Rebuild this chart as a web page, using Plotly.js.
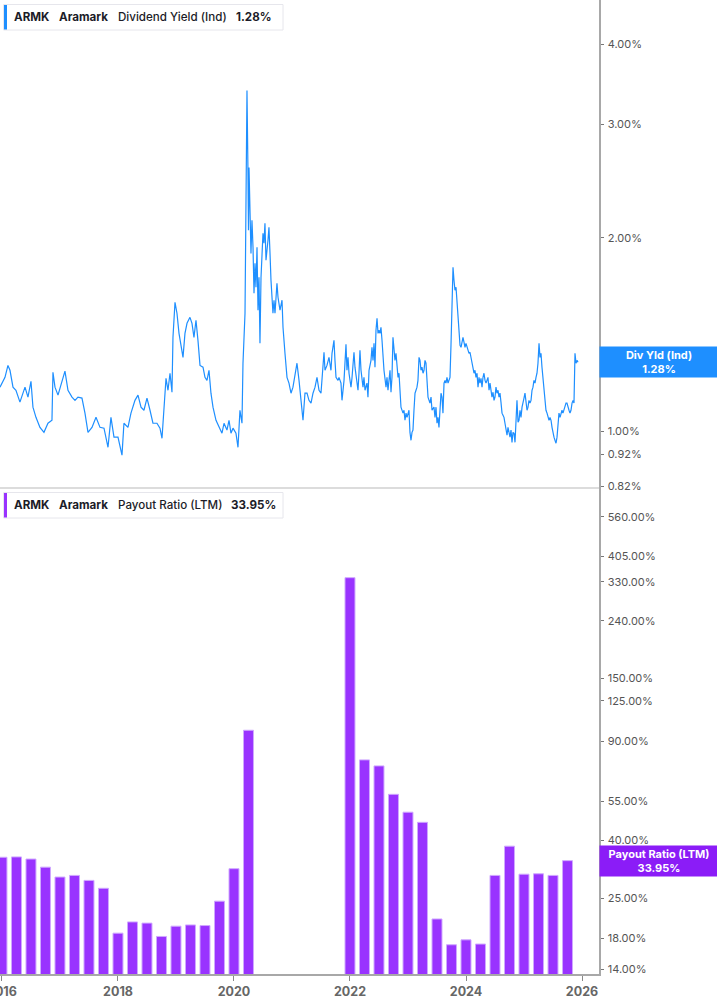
<!DOCTYPE html>
<html>
<head>
<meta charset="utf-8">
<script src="https://cdn.plot.ly/plotly-3.0.1.min.js"></script>
<style>
  html, body { margin: 0; padding: 0; background: #fff; }
  #chart { width: 717px; height: 1005px; }
</style>
</head>
<body>
<div id="chart"></div>
<script>
// ARMK dividend yield (daily) and quarterly payout ratio
const ticker = 'ARMK';
const company = 'Aramark';

// [decimal year, dividend yield %]
const yieldSeries = [
  [2015.966,1.171],[2016.052,1.213],[2016.103,1.266],[2016.138,1.244],[2016.190,1.171],[2016.241,1.158],[2016.310,1.110],[2016.397,1.171],[2016.448,1.130],[2016.500,1.196],[2016.534,1.090],[2016.586,1.051],[2016.655,1.014],[2016.724,0.996],[2016.793,1.029],[2016.862,1.040],[2016.879,1.235],[2016.914,1.171],[2016.966,1.138],
  [2017.034,1.200],[2017.086,1.240],[2017.138,1.158],[2017.207,1.130],[2017.259,1.117],[2017.310,1.130],[2017.379,1.126],[2017.431,1.067],[2017.483,0.996],[2017.552,1.014],[2017.621,1.051],[2017.690,1.014],[2017.759,1.011],[2017.828,0.944],[2017.879,1.051],[2017.931,0.979],
  [2018.000,0.979],[2018.069,0.918],[2018.103,1.029],[2018.172,1.014],[2018.224,1.067],[2018.293,1.117],[2018.345,1.138],[2018.397,1.090],[2018.448,1.078],[2018.500,1.126],[2018.552,1.078],[2018.603,1.029],[2018.672,1.029],[2018.724,1.011],[2018.759,0.975],[2018.793,1.067],[2018.828,1.209],[2018.862,1.158],[2018.897,1.231],[2018.931,1.150],[2018.948,1.400],[2018.983,1.587],
  [2019.017,1.526],[2019.052,1.420],[2019.086,1.351],[2019.121,1.303],[2019.155,1.420],[2019.190,1.472],[2019.241,1.504],[2019.276,1.472],[2019.310,1.400],[2019.345,1.488],[2019.379,1.385],[2019.414,1.266],[2019.466,1.258],[2019.500,1.213],[2019.534,1.200],[2019.569,1.244],[2019.603,1.146],[2019.638,1.090],[2019.690,1.040],[2019.741,1.014],[2019.793,0.993],[2019.828,1.029],[2019.879,1.004],[2019.914,1.040],[2019.948,0.993],[2019.983,1.011],
  [2020.034,0.993],[2020.069,0.944],[2020.103,1.078],[2020.138,1.029],[2020.155,1.276],[2020.190,1.526],[2020.207,2.183],[2020.224,3.391],[2020.241,2.546],[2020.250,2.054],[2020.259,2.573],[2020.276,2.152],[2020.293,1.891],[2020.310,2.129],[2020.328,1.933],[2020.345,1.639],[2020.362,1.825],[2020.379,1.675],[2020.397,1.933],[2020.414,1.543],[2020.431,1.736],[2020.448,1.370],[2020.466,1.736],[2020.500,2.032],[2020.517,1.961],[2020.534,2.106],[2020.552,1.845],[2020.586,1.982],[2020.603,2.077],[2020.621,1.891],[2020.638,1.717],[2020.672,1.526],[2020.690,1.599],[2020.707,1.526],[2020.741,1.699],[2020.759,1.616],[2020.793,1.543],[2020.828,1.599],[2020.845,1.451],[2020.879,1.322],[2020.914,1.213],[2020.948,1.188],[2020.983,1.146],
  [2021.017,1.171],[2021.052,1.231],[2021.086,1.276],[2021.121,1.200],[2021.155,1.117],[2021.190,1.040],[2021.224,1.146],[2021.259,1.146],[2021.293,1.117],[2021.328,1.106],[2021.362,1.146],[2021.397,1.171],[2021.431,1.213],[2021.466,1.158],[2021.500,1.146],[2021.517,1.200],[2021.534,1.258],[2021.552,1.327],[2021.569,1.244],[2021.603,1.266],[2021.638,1.303],[2021.655,1.266],[2021.672,1.244],[2021.690,1.322],[2021.724,1.385],[2021.741,1.289],[2021.759,1.213],[2021.793,1.200],[2021.810,1.213],[2021.845,1.188],[2021.862,1.117],[2021.897,1.200],[2021.914,1.276],[2021.931,1.365],[2021.948,1.244],[2021.966,1.303],[2021.983,1.231],
  [2022.017,1.171],[2022.034,1.209],[2022.069,1.327],[2022.086,1.258],[2022.121,1.200],[2022.138,1.158],[2022.155,1.231],[2022.172,1.336],[2022.190,1.244],[2022.224,1.171],[2022.241,1.213],[2022.259,1.158],[2022.293,1.188],[2022.310,1.130],[2022.328,1.244],[2022.362,1.289],[2022.379,1.351],[2022.397,1.289],[2022.414,1.370],[2022.431,1.258],[2022.448,1.436],[2022.466,1.499],[2022.483,1.420],[2022.500,1.436],[2022.517,1.420],[2022.534,1.451],[2022.552,1.385],[2022.569,1.289],[2022.586,1.244],[2022.621,1.171],[2022.638,1.213],[2022.655,1.158],[2022.690,1.244],[2022.707,1.150],[2022.724,1.213],[2022.741,1.400],[2022.759,1.336],[2022.776,1.289],[2022.793,1.322],[2022.810,1.258],[2022.828,1.213],[2022.845,1.231],[2022.862,1.146],[2022.879,1.090],[2022.914,1.067],[2022.931,1.078],[2022.948,1.040],[2022.966,1.067],[2022.983,1.051],
  [2023.017,1.078],[2023.034,0.996],[2023.052,0.968],[2023.069,0.996],[2023.086,1.004],[2023.103,1.078],[2023.121,1.146],[2023.138,1.158],[2023.155,1.171],[2023.172,1.200],[2023.190,1.303],[2023.207,1.289],[2023.224,1.244],[2023.241,1.258],[2023.259,1.231],[2023.276,1.244],[2023.293,1.289],[2023.310,1.276],[2023.328,1.188],[2023.345,1.130],[2023.379,1.106],[2023.397,1.130],[2023.414,1.078],[2023.448,1.090],[2023.466,1.051],[2023.483,1.090],[2023.500,1.029],[2023.517,1.051],[2023.534,1.014],[2023.552,1.078],[2023.569,1.146],[2023.586,1.130],[2023.603,1.067],[2023.621,1.188],[2023.638,1.200],[2023.655,1.188],[2023.672,1.213],[2023.690,1.188],[2023.707,1.200],[2023.724,1.213],[2023.741,1.360],[2023.759,1.599],[2023.776,1.799],[2023.793,1.717],[2023.810,1.657],[2023.828,1.675],[2023.845,1.582],[2023.862,1.543],[2023.879,1.410],[2023.897,1.360],[2023.914,1.351],[2023.931,1.375],[2023.948,1.400],[2023.966,1.375],[2023.983,1.351],
  [2024.000,1.370],[2024.034,1.336],[2024.052,1.322],[2024.069,1.327],[2024.086,1.303],[2024.103,1.276],[2024.121,1.244],[2024.138,1.231],[2024.155,1.244],[2024.172,1.213],[2024.190,1.231],[2024.207,1.171],[2024.224,1.213],[2024.241,1.188],[2024.259,1.209],[2024.276,1.171],[2024.293,1.213],[2024.310,1.231],[2024.328,1.200],[2024.345,1.188],[2024.379,1.213],[2024.397,1.158],[2024.414,1.188],[2024.448,1.130],[2024.466,1.150],[2024.483,1.117],[2024.500,1.130],[2024.517,1.171],[2024.534,1.146],[2024.552,1.158],[2024.569,1.130],[2024.586,1.146],[2024.603,1.110],[2024.621,1.067],[2024.638,1.059],[2024.655,1.051],[2024.672,1.029],[2024.690,1.004],[2024.707,0.986],[2024.724,1.014],[2024.741,0.993],[2024.759,0.979],[2024.776,1.004],[2024.793,0.961],[2024.810,0.996],[2024.828,0.993],[2024.845,0.961],[2024.862,1.078],[2024.879,1.117],[2024.897,1.033],[2024.914,1.040],[2024.931,1.078],[2024.948,1.051],[2024.966,1.090],[2024.983,1.117],
  [2025.000,1.126],[2025.017,1.146],[2025.034,1.106],[2025.052,1.078],[2025.069,1.090],[2025.086,1.117],[2025.103,1.106],[2025.121,1.117],[2025.138,1.158],[2025.155,1.171],[2025.172,1.200],[2025.190,1.188],[2025.207,1.213],[2025.224,1.231],[2025.241,1.276],[2025.259,1.370],[2025.276,1.303],[2025.293,1.322],[2025.310,1.258],[2025.328,1.213],[2025.345,1.158],[2025.362,1.106],[2025.379,1.078],[2025.397,1.067],[2025.414,1.051],[2025.431,1.040],[2025.448,1.051],[2025.466,1.040],[2025.483,1.014],[2025.500,0.993],[2025.517,0.979],[2025.534,0.968],[2025.552,0.958],[2025.569,0.979],[2025.586,1.029],[2025.603,1.067],[2025.621,1.051],[2025.638,1.067],[2025.655,1.078],[2025.672,1.067],[2025.690,1.078],[2025.707,1.090],[2025.724,1.106],[2025.741,1.106],[2025.759,1.086],[2025.776,1.078],[2025.793,1.067],[2025.810,1.078],[2025.828,1.106],[2025.845,1.117],[2025.862,1.106],[2025.879,1.322],[2025.897,1.276],[2025.914,1.289],[2025.931,1.280]
];

// quarterly payout ratio (LTM), % — no bars while earnings were negative
const payoutQuarters = [
  2016.0, 2016.25, 2016.5, 2016.75, 2017.0, 2017.25, 2017.5, 2017.75,
  2018.0, 2018.25, 2018.5, 2018.75, 2019.0, 2019.25, 2019.5, 2019.75,
  2020.0, 2020.25,
  2022.0, 2022.25, 2022.5, 2022.75, 2023.0, 2023.25, 2023.5, 2023.75,
  2024.0, 2024.25, 2024.5, 2024.75, 2025.0, 2025.25, 2025.5, 2025.75
];
const payoutPct = [
  34.9, 35.0, 34.4, 32.2, 29.7, 30.1, 28.9, 27.1,
  18.8, 20.6, 20.4, 18.3, 19.9, 20.1, 20.0, 24.4,
  31.8, 98.3,
  341, 77.2, 73.5, 58.3, 50.4, 46.4, 21.1, 17.1,
  17.8, 17.2, 30.1, 38.2, 30.4, 30.5, 30.1, 33.95
];

const yearTicks = [2016, 2018, 2020, 2022, 2024, 2026];
const yieldTicks = [0.82, 0.92, 1, 2, 3, 4];
const payoutTicks = [14, 18, 25, 40, 55, 90, 125, 150, 240, 330, 405, 560];

const lastYield = yieldSeries[yieldSeries.length - 1][1];
const lastPayout = payoutPct[payoutPct.length - 1];

const blue = '#1e8fff';
const purple = '#9933ff';
const purpleDark = '#8b1cf7';
const font = 'Inter, "Noto Sans", sans-serif';

// plot area in px, used to place the legend boxes
const W = 599, H = 974;
const px = v => v / W;
const py = v => 1 - v / H;

const pct = v => v.toFixed(2) + '%';

const lineTrace = {
  type: 'scatter',
  mode: 'lines',
  x: yieldSeries.map(d => d[0]),
  y: yieldSeries.map(d => d[1]),
  xaxis: 'x2',
  yaxis: 'y2',
  line: { color: blue, width: 1.2 },
  hoverinfo: 'skip',
  showlegend: false,
};

const barTrace = {
  type: 'bar',
  x: payoutQuarters,
  y: payoutPct,
  width: 0.172,
  xaxis: 'x',
  yaxis: 'y',
  marker: { color: purple, line: { color: '#cfa8ff', width: 1 } },
  hoverinfo: 'skip',
  showlegend: false,
};

function legendBox(top, color) {
  return [
    {
      type: 'rect', xref: 'paper', yref: 'paper',
      x0: px(3.5), x1: px(283), y0: py(top + 25.5), y1: py(top),
      line: { color: '#e6e6ec', width: 1 }, fillcolor: '#ffffff', layer: 'above',
    },
    {
      type: 'rect', xref: 'paper', yref: 'paper',
      x0: px(4), x1: px(7), y0: py(top + 25), y1: py(top + 0.5),
      line: { width: 0 }, fillcolor: color, layer: 'above',
    },
  ];
}

function legendText(yc, parts) {
  return parts.map(p => ({
    xref: 'paper', yref: 'paper', x: px(p.x), y: py(yc),
    xanchor: 'left', yanchor: 'middle', showarrow: false,
    borderpad: 0,
    text: p.text,
    font: { family: font, size: 11.6, color: '#1c1c28', weight: p.w },
  }));
}

const annotations = [
  ...legendText(17, [
    { x: 12.5, text: ticker, w: 700 },
    { x: 57.5, text: company, w: 700 },
    { x: 116.5, text: 'Dividend Yield (Ind)', w: 500 },
    { x: 234.5, text: pct(lastYield), w: 700 },
  ]),
  ...legendText(505, [
    { x: 12.5, text: ticker, w: 700 },
    { x: 57.5, text: company, w: 700 },
    { x: 116.5, text: 'Payout Ratio (LTM)', w: 500 },
    { x: 229.5, text: pct(lastPayout), w: 700 },
  ]),
  {
    xref: 'paper', yref: 'y2', x: 1, y: Math.log10(lastYield),
    xanchor: 'left', yanchor: 'middle', showarrow: false,
    width: 114, height: 26, borderpad: 2, bgcolor: blue, align: 'center',
    text: 'Div Yld (Ind)<br>' + pct(lastYield),
    font: { family: font, size: 11, color: '#ffffff', weight: 700 },
  },
  {
    xref: 'paper', yref: 'y', x: 1, y: Math.log10(lastPayout),
    xanchor: 'left', yanchor: 'middle', showarrow: false,
    width: 114, height: 26, borderpad: 2, bgcolor: purpleDark, align: 'center',
    text: 'Payout Ratio (LTM)<br>' + pct(lastPayout),
    font: { family: font, size: 11, color: '#ffffff', weight: 700 },
  },
];

const xRange = [2015.966, 2026.293];
const yAxisCommon = {
  type: 'log',
  side: 'right',
  showgrid: false,
  zeroline: false,
  showline: true,
  linecolor: '#a8a8a8',
  linewidth: 1.5,
  ticks: 'outside',
  ticklen: 3,
  tickwidth: 1,
  tickcolor: '#777',
  ticklabelstandoff: 2,
  tickfont: { family: font, size: 11, color: '#555' },
  fixedrange: true,
};

const layout = {
  width: 717,
  height: 1005,
  margin: { l: 0, r: 118, t: 0, b: 31 },
  paper_bgcolor: '#ffffff',
  plot_bgcolor: '#ffffff',
  showlegend: false,
  bargap: 0,
  xaxis: {
    domain: [0, 1],
    anchor: 'y',
    range: xRange,
    tickvals: yearTicks,
    ticktext: yearTicks.map(String),
    ticklabeloverflow: 'allow',
    showgrid: false,
    zeroline: false,
    showline: true,
    linecolor: '#a8a8a8',
    linewidth: 2,
    ticks: 'outside',
    ticklen: 5,
    tickcolor: '#888',
    tickfont: { family: font, size: 12.5, color: '#666', weight: 700 },
    fixedrange: true,
  },
  xaxis2: {
    domain: [0, 1],
    anchor: 'y2',
    range: xRange,
    visible: false,
    fixedrange: true,
  },
  yaxis: Object.assign({}, yAxisCommon, {
    domain: [0, 0.499],
    anchor: 'x',
    range: [1.1295, 2.8504],
    tickvals: payoutTicks,
    ticktext: payoutTicks.map(pct),
  }),
  yaxis2: Object.assign({}, yAxisCommon, {
    domain: [0.499, 1],
    anchor: 'x2',
    range: [-0.0883, 0.671],
    tickvals: yieldTicks,
    ticktext: yieldTicks.map(pct),
  }),
  shapes: [
    {
      type: 'line', xref: 'paper', yref: 'paper',
      x0: 0, x1: 1, y0: 0.499, y1: 0.499,
      line: { color: '#dcdcdc', width: 2 },
    },
    ...legendBox(4.5, blue),
    ...legendBox(492.5, purple),
  ],
  annotations: annotations,
};

Plotly.newPlot('chart', [barTrace, lineTrace], layout, { displayModeBar: false, staticPlot: true });
</script>
</body>
</html>
